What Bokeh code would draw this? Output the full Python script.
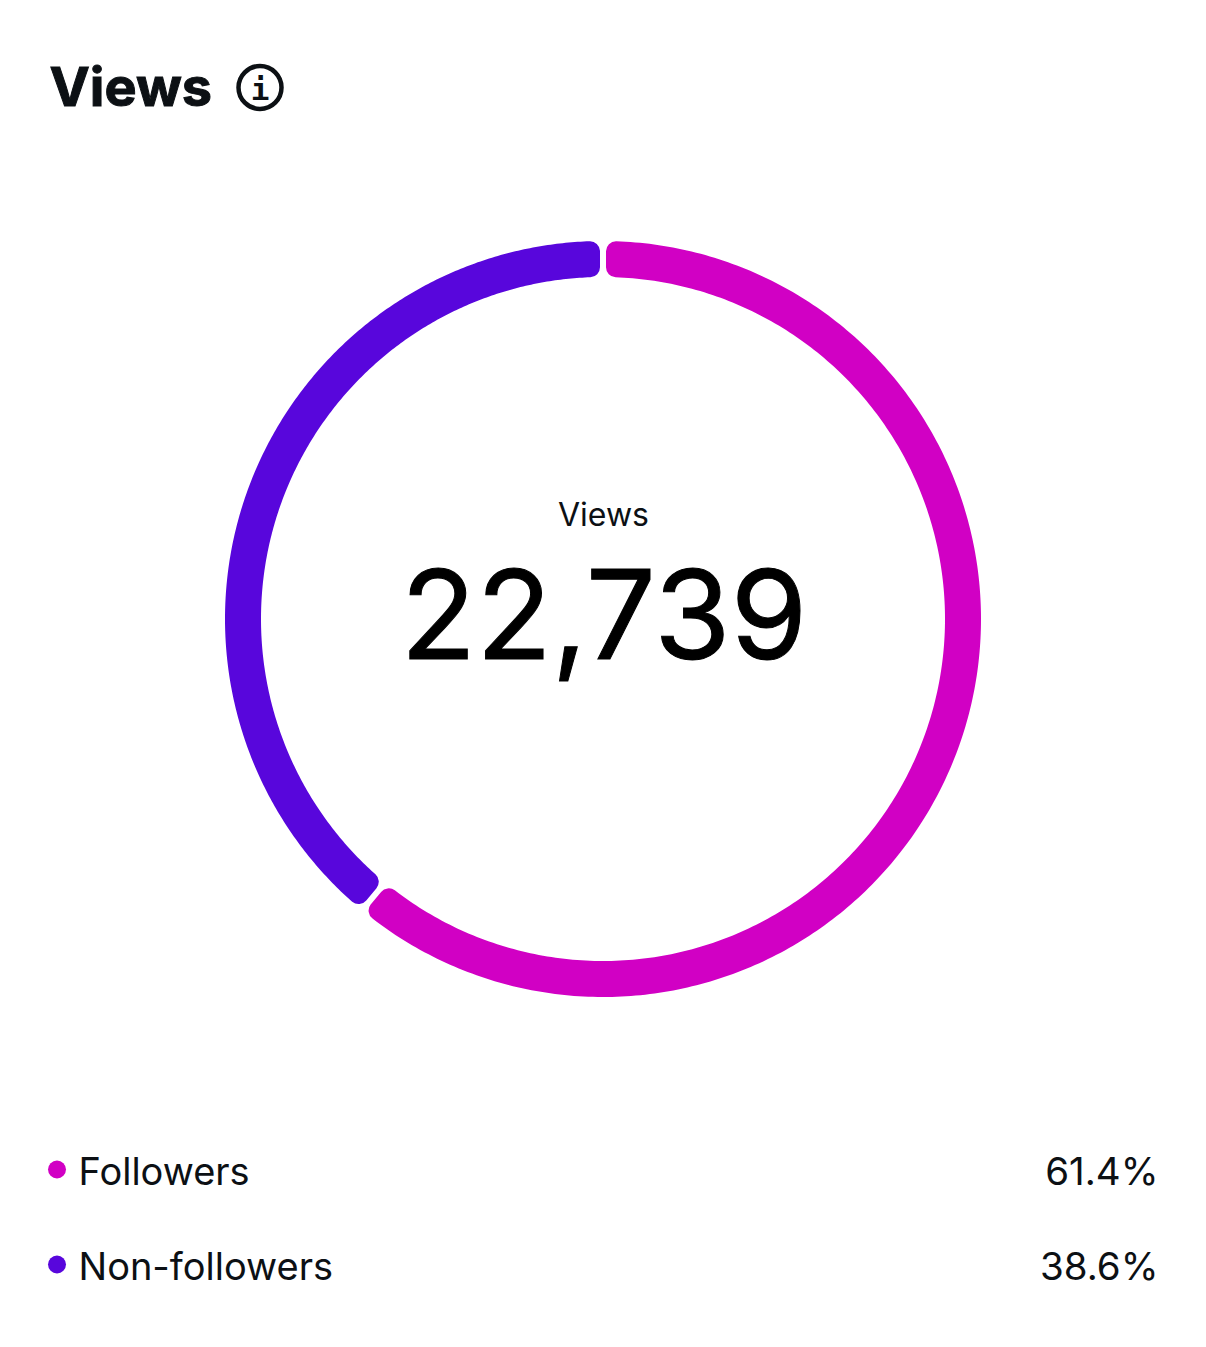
import numpy as np
from bokeh.plotting import figure
from bokeh.models import Range1d
from bokeh.core.properties import value
from bokeh.embed import file_html
from bokeh.resources import INLINE

title = "Views"
center_label = "Views"
center_value = "22,739"
categories = ["Followers", "Non-followers"]
share_labels = ["61.4%", "38.6%"]
arc_shares = [61.0, 39.0]  # as drawn in the ring
colors = ["#D100C4", "#5806DC"]
ink = "#0C1014"

W, H = 1190, 1331
p = figure(width=W, height=H, output_backend="svg", toolbar_location=None,
           x_range=Range1d(0, W), y_range=Range1d(H, 0),
           min_border=0, outline_line_color=None)
p.axis.visible = False
p.grid.visible = False
p.background_fill_color = "white"

cx, cy = 602.5, 618.5
r_out, r_in = 378, 342
half_gap, corner = 3, 10


def segment(a0, a1):
    a0, a1 = np.radians(a0), np.radians(a1)
    ro, ri = r_out - corner, r_in + corner
    inset = half_gap + corner
    ao = np.linspace(a0 + inset / ro, a1 - inset / ro, 300)
    ai = np.linspace(a1 - inset / ri, a0 + inset / ri, 300)
    xs = np.r_[cx + ro * np.sin(ao), cx + ri * np.sin(ai)]
    ys = np.r_[cy - ro * np.cos(ao), cy - ri * np.cos(ai)]
    return xs, ys


start = 0.0
for share, col in zip(arc_shares, colors):
    end = start + share * 3.6
    xs, ys = segment(start, end)
    p.patch(xs, ys, fill_color=col, line_color=col, line_width=corner * 2, line_join="round")
    start = end

FONT = value("Inter")
p.text([49], [86], text=[title], text_font=FONT, text_font_size="54px", text_font_style="bold",
       text_color=ink, text_outline_color=ink, text_baseline="middle")
# info icon
p.scatter([259.5], [87], size=43, marker="circle", fill_color=None, line_color=ink, line_width=4.5)
p.text([259.5], [88], text=["i"], text_font=value("DejaVu Sans Mono"), text_font_size="31px",
       text_font_style="bold", text_color=ink, text_align="center", text_baseline="middle")

p.text([603], [514], text=[center_label], text_font=FONT, text_font_size="32px", text_color=ink,
       text_align="center", text_baseline="middle")
p.text([603.5], [613], text=[center_value], text_font=FONT, text_font_size="124px",
       text_color="#000000", text_outline_color="#000000", text_align="center", text_baseline="alphabetic")

row_y = [1170, 1265]
for y, c, s, col in zip(row_y, categories, share_labels, colors):
    p.scatter([56.5], [y - 1], size=18, marker="circle", fill_color=col, line_color=None)
    p.text([78], [y], text=[c], text_font=FONT, text_font_size="38px", text_color=ink, text_baseline="middle")
    p.text([1158], [y], text=[s], text_font=FONT, text_font_size="38.5px", text_color=ink,
           text_align="right", text_baseline="middle")

open("out.html", "w").write(file_html(p, INLINE))
